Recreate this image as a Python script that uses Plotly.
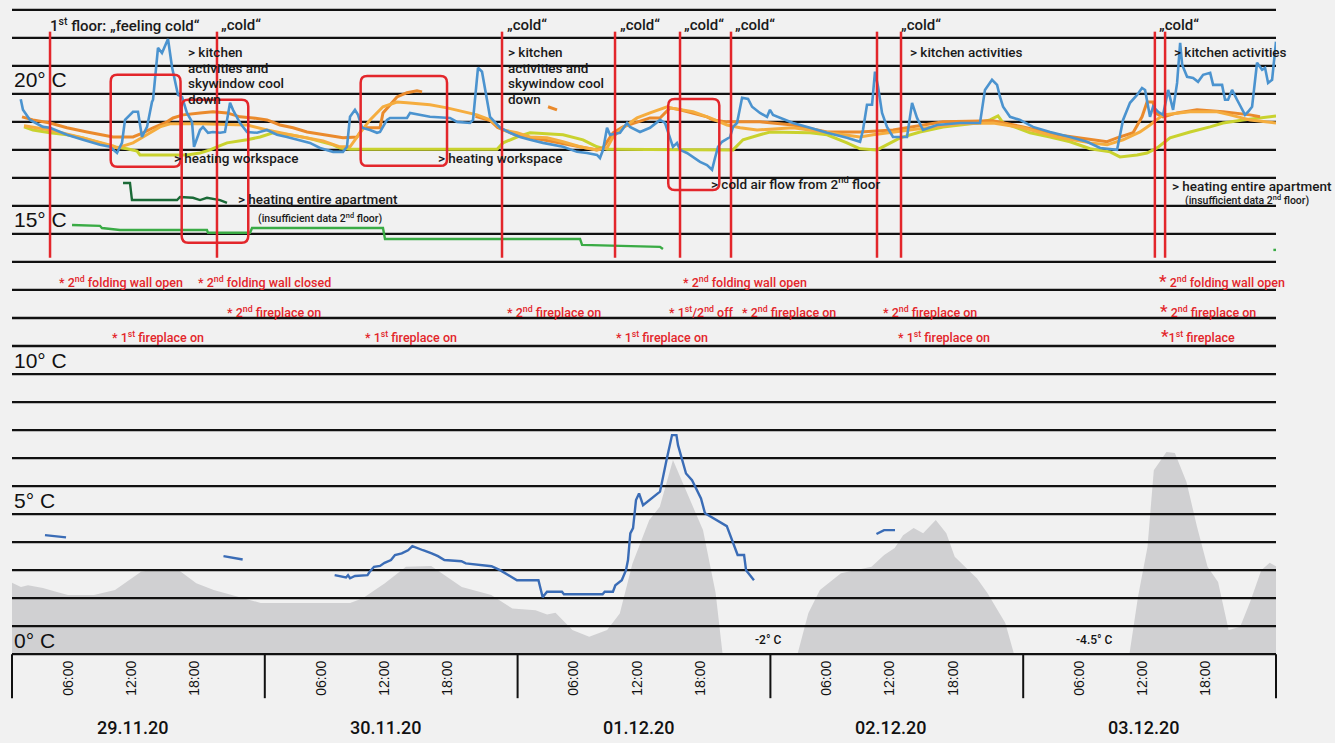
import plotly.graph_objects as go
import numpy as np

# ---------------- DATA (x: hours since 29.11.20 00:00, y: deg C) ----------------
day_labels = ["29.11.20", "30.11.20", "01.12.20", "02.12.20", "03.12.20"]
hour_labels = ["06:00", "12:00", "18:00"]
temp_axis_labels = [20, 15, 10, 5, 0]

# 1st floor (blue)
blue_h = [0.83, 1.04, 1.71, 2.94, 3.61, 5.22, 6.74, 8.35, 9.30, 9.97, 10.44, 10.73, 11.49, 11.96, 12.34, 12.82,
          13.29, 13.39, 13.86, 14.24, 14.81, 15.19, 15.76, 16.14, 16.61, 17.09, 17.28, 17.85, 18.13, 18.61, 19.08,
          19.75, 20.22, 20.70, 20.98, 21.65, 22.31, 23.26, 24.21, 25.16, 26.11, 27.06, 28.29, 29.24, 30.48, 31.42,
          31.80, 32.09, 32.56, 32.85, 33.23, 33.99, 34.65, 34.94, 35.60, 35.89, 37.50, 37.79, 39.68, 41.58, 42.25,
          43.48, 43.77, 44.24, 44.62, 45.38, 46.33, 47.28, 48.23, 49.18, 50.41, 52.31, 53.64, 54.59, 55.54, 55.82,
          56.11, 56.49, 56.77, 57.72, 58.39, 58.67, 59.62, 60.57, 61.52, 62.00, 62.47, 62.75, 63.13, 63.42, 64.08,
          64.65, 65.32, 65.98, 66.46, 66.74, 67.03, 67.41, 68.17, 68.45, 68.83, 69.31, 69.88, 70.26, 71.01, 71.68,
          71.96, 72.25, 74.15, 75.76, 77.38, 79.27, 80.51, 80.79, 81.17, 81.65, 81.93, 82.22, 82.60, 83.07, 83.64,
          84.97, 85.45, 85.92, 86.49, 87.82, 90.00, 91.90, 92.37, 93.04, 93.52, 93.80, 94.09, 94.75, 95.70, 96.93,
          98.55, 100.45, 102.06, 103.30, 104.91, 105.48, 106.14, 106.81, 107.28, 107.57, 108.04, 108.33, 108.80,
          109.28, 109.76, 110.23, 110.61, 110.90, 111.09, 111.56, 112.13, 112.60, 113.08, 113.75, 114.03, 114.88,
          115.16, 115.45, 115.83, 116.30, 117.06, 117.35, 117.73, 118.20, 118.68, 118.96, 119.25, 119.63, 120.0]
blue_t = [18.81, 18.43, 18.07, 17.82, 17.79, 17.54, 17.36, 17.18, 17.11, 16.89, 17.25, 18.07, 18.36, 18.36, 17.46,
          17.82, 18.71, 18.79, 20.64, 20.46, 20.96, 19.96, 18.96, 18.89, 18.32, 18.00, 17.11, 17.71, 17.82, 17.61,
          17.64, 17.61, 17.64, 18.68, 18.43, 17.96, 17.64, 17.61, 17.71, 17.54, 17.46, 17.36, 17.25, 17.07, 16.93,
          16.93, 17.11, 18.18, 18.43, 18.25, 17.79, 17.71, 17.61, 17.64, 18.07, 18.14, 18.14, 18.32, 18.18, 18.14,
          18.00, 17.96, 18.07, 19.93, 19.79, 18.18, 17.79, 17.61, 17.46, 17.36, 17.25, 17.11, 16.93, 16.89, 16.82,
          16.71, 17.00, 17.79, 17.54, 17.61, 17.96, 17.82, 17.64, 17.79, 18.07, 17.96, 17.46, 17.11, 17.25, 17.00,
          16.89, 16.75, 16.57, 16.46, 16.29, 16.71, 17.11, 17.29, 17.46, 17.82, 17.96, 18.86, 18.82, 18.54, 18.32,
          18.18, 18.43, 18.25, 17.96, 17.79, 17.61, 17.43, 17.29, 17.71, 18.61, 18.61, 19.79, 19.25, 18.32, 17.82,
          17.46, 17.46, 18.68, 18.14, 17.71, 17.89, 17.96, 17.96, 19.14, 19.50, 19.32, 18.89, 18.54, 18.18, 18.07,
          17.82, 17.64, 17.46, 17.29, 17.07, 17.00, 18.07, 18.68, 18.96, 19.21, 19.14, 18.18, 18.54, 18.36, 18.25,
          19.14, 18.43, 19.39, 20.82, 20.04, 19.61, 19.57, 19.43, 19.68, 19.75, 19.32, 19.32, 18.79, 18.79, 19.14,
          18.79, 18.25, 18.36, 18.54, 20.11, 19.86, 19.93, 19.39, 19.50, 20.86]

# dark orange (None = no data)
dorange_h = [0.95, 1.99, 3.61, 5.22, 7.12, 8.35, 9.59, 11.49, 12.44, 13.39, 14.72, 15.29, 16.23, 17.85, 19.08,
             20.41, 21.65, 22.88, 24.21, 25.44, 26.68, 28.01, 29.53, 31.42, 32.75, 33.32, 34.94, 35.22, 36.55,
             37.50, 38.45, 38.93, None, 44.0, 45.4, 46.1, 47.9, 50.4, 52.3, 54.2, 55.5, 56.1, 57.06, 58.0, 59.34,
             60.57, 61.52, 62.47, 63.42, 64.65, 65.98, 66.55, 67.88, 71.01, 74.15, 77.38, 80.51, 83.64, 86.87,
             88.39, 93.13, 95.98, 99.21, 102.35, 103.96, 104.91, 106.43, 107.28, 107.76, 108.33, 108.52, 109.28,
             110.61, 112.50, 114.97, 117.54, 118.48, None, 50.89, 51.74]
dorange_t = [18.18, 18.07, 17.96, 17.79, 17.64, 17.54, 17.46, 17.46, 17.61, 17.79, 18.00, 18.14, 18.25, 18.32,
             18.36, 18.32, 18.18, 18.14, 18.07, 17.89, 17.79, 17.64, 17.54, 17.43, 17.46, 17.79, 17.79, 18.32,
             18.89, 19.04, 19.11, 19.07, None, 18.20, 18.05, 17.80, 17.52, 17.36, 17.22, 17.07, 17.00, 17.07, 17.61,
             17.82, 18.00, 18.14, 18.14, 18.50, 18.43, 18.32, 18.18, 18.07, 18.00, 18.00, 17.89, 17.64, 17.64,
             17.71, 17.89, 18.00, 18.04, 17.82, 17.54, 17.36, 17.29, 17.43, 17.61, 18.18, 18.71, 18.71, 18.32,
             18.18, 18.32, 18.43, 18.36, 18.25, 18.18, None, 18.54, 18.43]

# light orange
lorange_h = [1.14, 3.61, 6.74, 9.59, 9.97, 11.49, 12.44, 14.05, 15.00, 17.85, 22.31, 24.21, 26.39, 29.53, 31.14,
             32.09, 33.04, 33.99, 35.22, 36.55, 37.50, 39.68, 41.30, 42.82, 44.15, 45.38, 46.05, 46.62, 47.94,
             49.18, 50.79, 52.31, 53.93, 55.54, 56.49, 57.06, 58.00, 59.34, 60.57, 62.19, 62.47, 64.65, 66.27,
             67.88, 69.12, 70.73, 74.15, 77.38, 80.51, 81.74, 83.64, 86.87, 90.00, 93.13, 95.98, 99.21, 102.35,
             103.96, 105.48, 107.09, 108.04, 109.28, 111.84, 114.40, 115.64, 117.54, 120.0]
lorange_t = [17.86, 17.71, 17.43, 17.14, 17.07, 17.25, 17.46, 17.82, 17.93, 17.93, 17.89, 17.71, 17.54, 17.32,
             17.11, 17.11, 17.61, 18.07, 18.54, 18.71, 18.68, 18.61, 18.50, 18.36, 18.25, 18.07, 17.89, 17.71,
             17.61, 17.46, 17.43, 17.29, 17.11, 17.00, 17.07, 17.46, 17.79, 18.14, 18.32, 18.54, 18.50, 18.36,
             18.14, 17.89, 17.79, 17.71, 17.79, 17.61, 17.46, 17.54, 17.64, 17.79, 17.93, 17.96, 17.79, 17.46,
             17.25, 17.18, 17.36, 17.64, 17.89, 18.25, 18.36, 18.36, 18.25, 18.07, 17.96]

# yellow-green
ygreen_h = [1.14, 1.99, 3.61, 5.22, 6.74, 8.35, 9.59, 10.92, 11.87, 12.15, 16.61, 17.85, 18.80, 19.46, 20.41,
            22.31, 23.55, 24.78, 26.39, 28.01, 29.53, 30.48, 31.14, 32.09, 46.05, 46.62, 47.94, 49.18, 52.31,
            54.21, 55.54, 56.49, 68.45, 69.40, 71.01, 71.96, 75.76, 77.38, 79.27, 80.51, 82.12, 83.07, 84.31,
            86.20, 88.39, 91.62, 92.85, 93.61, 94.09, 95.41, 96.65, 98.55, 100.45, 102.35, 104.25, 105.19,
            106.81, 107.76, 108.71, 109.94, 111.84, 113.74, 114.97, 116.87, 120.0]
ygreen_t = [17.82, 17.71, 17.61, 17.54, 17.43, 17.25, 17.11, 17.04, 16.96, 16.82, 16.82, 16.89, 17.00, 17.11,
            17.25, 17.36, 17.46, 17.61, 17.54, 17.43, 17.29, 17.18, 17.07, 17.02, 17.02, 17.25, 17.46, 17.61,
            17.54, 17.36, 17.11, 17.02, 17.00, 17.36, 17.54, 17.64, 17.61, 17.54, 17.25, 17.04, 17.00, 17.18,
            17.43, 17.64, 17.82, 17.96, 18.07, 18.21, 17.96, 17.79, 17.61, 17.46, 17.29, 17.04, 16.93, 16.75,
            16.82, 16.89, 17.07, 17.43, 17.64, 17.82, 17.96, 18.07, 18.21]

# dark green (short series)
dgreen_h = [10.54, 11.20, 11.39, 15.67, 15.95, 17.18, 17.85, 18.51, 19.75, 20.22, 20.41]
dgreen_t = [15.82, 15.82, 15.21, 15.21, 15.32, 15.29, 15.21, 15.29, 15.21, 15.14, 15.11]

# green (2nd floor, insufficient data)
green_h = [5.70, 8.35, 8.54, 10.25, 18.51, 18.61, 22.60, 22.79, 35.22, 35.41, 53.93, 54.12, 61.52, 61.80,
           None, 119.75, 120.0]
green_t = [14.32, 14.29, 14.21, 14.14, 14.14, 14.04, 14.04, 14.21, 14.21, 13.82, 13.82, 13.61, 13.54, 13.46,
           None, 13.43, 13.43]

# outdoor temperature (grey area)
outdoor_h = [0.0, 0.85, 1.52, 2.94, 4.18, 5.32, 7.78, 9.78, 12.25, 13.10, 15.90, 17.50, 19.15, 21.55, 23.60,
             32.10, 33.30, 35.40, 37.40, 39.80, 42.70, 45.50, 47.50, 49.70, 50.80, 51.60, 53.20, 54.80, 56.50,
             57.70, 58.90, 60.50, 61.50, 62.75, 64.00, 65.60, 66.80, 67.45, 68.50, 71.00, 73.00, 74.60, 75.60,
             76.70, 78.70, 81.60, 82.80, 83.80, 84.60, 85.60, 86.50, 87.70, 88.70, 89.50, 91.60, 92.60, 94.30,
             95.10, 97.00, 100.00, 102.50, 104.50, 106.10, 106.90, 107.80, 108.40, 109.60, 110.40, 111.50,
             112.50, 113.50, 114.50, 115.50, 116.60, 117.60, 118.60, 119.40, 120.0]
outdoor_t = [1.55, 1.40, 1.46, 1.36, 1.23, 1.11, 1.11, 1.29, 1.94, 2.00, 1.98, 1.53, 1.29, 1.05, 0.83, 0.83,
             1.00, 1.53, 2.12, 2.15, 1.40, 1.11, 0.63, 0.57, 0.42, 0.48, -0.14, -0.38, -0.14, 0.45, 2.23, 3.79,
             4.26, 5.93, 4.86, 3.43, 1.18, -0.96, -1.50, -2.00, -1.80, -0.96, 0.46, 1.29, 1.89, 2.12, 2.54, 2.79,
             3.25, 3.50, 3.32, 3.79, 3.32, 2.48, 1.71, 1.18, 0.11, -0.96, -2.50, -4.00, -4.50, -3.00, -0.96, 1.05,
             2.83, 5.57, 6.22, 6.18, 5.15, 3.55, 2.12, 1.58, -0.14, -0.02, 0.93, 2.00, 2.26, 2.14]

# measured outdoor line (dark blue, None = gap)
outline_h = [3.13, 5.13, None, 20.08, 21.90, None,
             30.63, 31.71, 31.90, 32.09, 32.56, 33.75, 33.96, 34.37, 34.94, 35.37, 35.98, 36.36, 37.00, 37.60,
             38.01, 38.42, 39.02, 39.84, 40.44, 41.05, 42.67, 43.08, 45.52, 46.33, 47.14, 47.94, 49.98, 50.38,
             50.79, 52.21, 52.40, 56.07, 56.27, 57.05, 57.28, 57.89, 58.29, 58.48, 58.70, 58.96, 59.24, 59.53,
             59.91, 61.52, 62.14, 62.66, 63.08, 63.23, 63.99, 64.56, 65.41, 65.79, 67.86, 68.89, 69.50, 69.69,
             70.44, None, 82.07, 82.79, 83.83]
outline_t = [3.25, 3.17, None, 2.50, 2.38, None,
             1.82, 1.74, 1.82, 1.71, 1.79, 1.82, 1.94, 2.12, 2.15, 2.26, 2.36, 2.54, 2.60, 2.71, 2.86, 2.81,
             2.71, 2.60, 2.50, 2.36, 2.32, 2.24, 2.14, 2.00, 1.82, 1.64, 1.64, 1.03, 1.23, 1.23, 1.14, 1.14,
             1.23, 1.23, 1.46, 1.64, 2.00, 2.36, 3.31, 3.50, 4.50, 4.74, 4.32, 4.80, 5.93, 6.82, 6.82, 6.46,
             5.45, 5.21, 4.56, 4.03, 3.57, 2.54, 2.54, 2.00, 1.64, None, 3.29, 3.43, 3.43]

# "cold" events (hours)
cold_events_h = [3.61, 19.46, 46.52, 57.25, 63.42, 68.26, 82.12, 84.40, 108.50, 109.47]

# highlighted periods: (start h, end h, upper T, lower T)
highlight_boxes = [(9.37, 16.00, 19.68, 16.40), (16.11, 22.43, 18.79, 13.69),
                   (33.10, 41.30, 19.64, 16.43), (62.30, 67.15, 18.82, 15.57)]

# ---------------- STYLE ----------------
BG = "#f1f1f1"
RED = "#e3262b"
FONT = "Roboto"
FONT_AX = "Liberation Sans"
YMIN, YMAX = -1.1, 22.1

fig = go.Figure()

# grey outdoor area (clipped at chart floor -1)
fig.add_trace(go.Scatter(x=[0, 120], y=[-1, -1], mode="lines", line=dict(width=0), hoverinfo="skip",
                         showlegend=False))
fig.add_trace(go.Scatter(x=outdoor_h, y=list(np.maximum(np.array(outdoor_t), -1.0)), mode="lines",
                         line=dict(width=0, color="#d0d0d2"), fill="tonexty", fillcolor="#d0d0d2",
                         hoverinfo="skip", showlegend=False))

# horizontal grid lines (every degree from -1 to 22)
gx, gy = [], []
for t in range(-1, 23):
    gx += [0, 120, None]
    gy += [t, t, None]
fig.add_trace(go.Scatter(x=gx, y=gy, mode="lines", line=dict(color="#111111", width=2.3),
                         hoverinfo="skip", showlegend=False))

fig.add_trace(go.Scatter(x=outline_h, y=outline_t, mode="lines", line=dict(color="#3a6cb6", width=2.4),
                         connectgaps=False, showlegend=False))
fig.add_trace(go.Scatter(x=green_h, y=green_t, mode="lines", line=dict(color="#3aab45", width=2.4),
                         connectgaps=False, showlegend=False))
fig.add_trace(go.Scatter(x=dgreen_h, y=dgreen_t, mode="lines", line=dict(color="#1b6a37", width=2.4),
                         showlegend=False))
fig.add_trace(go.Scatter(x=ygreen_h, y=ygreen_t, mode="lines", line=dict(color="#c9d22e", width=3),
                         showlegend=False))
fig.add_trace(go.Scatter(x=dorange_h, y=dorange_t, mode="lines", line=dict(color="#ea8a2c", width=3),
                         connectgaps=False, showlegend=False))
fig.add_trace(go.Scatter(x=lorange_h, y=lorange_t, mode="lines", line=dict(color="#f5ad3f", width=3),
                         showlegend=False))
fig.add_trace(go.Scatter(x=blue_h, y=blue_t, mode="lines", line=dict(color="#4b93cf", width=2.6),
                         showlegend=False))

shapes = []
# red event lines
for h in cold_events_h:
    shapes.append(dict(type="line", xref="x", yref="y", x0=h, x1=h, y0=21.22, y1=13.15,
                       line=dict(color=RED, width=2.5), layer="above"))
# rounded red boxes
rx, ry = 0.62, 0.24
for x0, x1, y1, y0 in highlight_boxes:
    p = (f"M {x0+rx},{y1} L {x1-rx},{y1} Q {x1},{y1} {x1},{y1-ry} L {x1},{y0+ry} Q {x1},{y0} {x1-rx},{y0} "
         f"L {x0+rx},{y0} Q {x0},{y0} {x0},{y0+ry} L {x0},{y1-ry} Q {x0},{y1} {x0+rx},{y1} Z")
    shapes.append(dict(type="path", xref="x", yref="y", path=p, line=dict(color=RED, width=2.5),
                       layer="above"))


def ypaper(t):
    return (t - YMIN) / (YMAX - YMIN)


# day separators of the time axis box
for d in range(6):
    shapes.append(dict(type="line", xref="paper", yref="paper", x0=d / 5, x1=d / 5, y0=ypaper(-1),
                       y1=ypaper(-2.57), line=dict(color="#111111", width=2), layer="above"))

ann = []


def txt(x, y, s, size=13.5, color="#1a1a1a", xanchor="left", xref="x", xshift=0, yref="y",
        family=FONT, weight=500):
    ann.append(dict(x=x, y=y, xref=xref, yref=yref, text=s, showarrow=False, xanchor=xanchor,
                    yanchor="middle", borderpad=0, xshift=xshift,
                    font=dict(family=family, size=size, color=color, weight=weight)))


# temperature labels
for t in temp_axis_labels:
    txt(0, t - 0.5, f"{t}° C", size=21, color="#111111", xref="paper", xshift=1, family=FONT_AX, weight=400)

# top row
T_TOP = 21.46
txt(3.51, T_TOP, "1<sup>st</sup> floor: „feeling cold“", size=15)
for h in [19.75, 46.87, 57.6, 63.68, 68.55, 84.31, 108.83]:
    txt(h, T_TOP, "„cold“", size=15)

for h in [16.61, 46.97]:
    for t, s in zip([20.5, 19.93, 19.39, 18.82], ["> kitchen", "activities and", "skywindow cool", "down"]):
        txt(h, t, s)
txt(85.19, 20.5, "> kitchen activities")
txt(110.2, 20.5, "> kitchen activities")
txt(15.29, 16.71, "> heating workspace")
txt(40.38, 16.71, "> heating workspace")
txt(66.27, 15.82, "> cold air flow from 2<sup>nd</sup> floor")
txt(21.36, 15.25, "> heating entire apartment")
txt(23.26, 14.57, "(insufficient data 2<sup>nd</sup> floor)", size=10.5)
txt(110.0, 15.71, "> heating entire apartment")
txt(111.3, 15.21, "(insufficient data 2<sup>nd</sup> floor)", size=10.5)

# red event notes
RS = 12.5
BIG = '<span style="font-size:17px">*</span>'
txt(4.34, 12.30, "* 2<sup>nd</sup> folding wall open", size=RS, color=RED)
txt(17.6, 12.30, "* 2<sup>nd</sup> folding wall closed", size=RS, color=RED)
txt(63.65, 12.30, "* 2<sup>nd</sup> folding wall open", size=RS, color=RED)
txt(108.78, 12.33, BIG + " 2<sup>nd</sup> folding wall open", size=RS, color=RED)
for h in [20.28, 46.94, 69.21, 82.6]:
    txt(h, 11.21, "* 2<sup>nd</sup> fireplace on", size=RS, color=RED)
txt(62.26, 11.21, "* 1<sup>st</sup>/2<sup>nd</sup> off", size=RS, color=RED)
txt(108.9, 11.25, BIG + " 2<sup>nd</sup> fireplace on", size=RS, color=RED)
for h in [9.4, 33.42, 57.29, 84.02]:
    txt(h, 10.31, "* 1<sup>st</sup> fireplace on", size=RS, color=RED)
txt(108.99, 10.35, BIG + "1<sup>st</sup> fireplace", size=RS, color=RED)

# clipped minimum notes
txt(71.8, -0.5, "-2° C", size=12, color="#111111", xanchor="center")
txt(102.8, -0.5, "-4.5° C", size=12, color="#111111", xanchor="center")

# date labels (below the axis box, paper coordinates)
for i, d in enumerate(day_labels):
    txt(12 + 24 * i, ypaper(-3.61), d, size=18, color="#111111", xanchor="center", xshift=-6, yref="paper")

tickvals, ticktext = [], []
for d in range(5):
    for k, lab in enumerate(hour_labels):
        tickvals.append(24 * d + 6 * (k + 1))
        ticktext.append(lab)

fig.update_layout(
    width=1335, height=743,
    margin=dict(l=12, r=59, t=7, b=86),
    paper_bgcolor=BG, plot_bgcolor=BG,
    showlegend=False,
    shapes=shapes, annotations=ann,
    xaxis=dict(range=[0, 120], showgrid=False, zeroline=False, showline=False,
               tickmode="array", tickvals=tickvals, ticktext=ticktext, tickangle=-90,
               tickfont=dict(family=FONT_AX, size=14, color="#111111"), ticks="",
               ticklabelshift=-7, ticklabelstandoff=0),
    yaxis=dict(range=[YMIN, YMAX], showgrid=False, zeroline=False, showline=False,
               showticklabels=False, ticks=""),
)

fig.write_html("out.html", config={"displayModeBar": False},
               post_script="document.body.style.margin='0';document.body.style.background='" + BG + "';")
